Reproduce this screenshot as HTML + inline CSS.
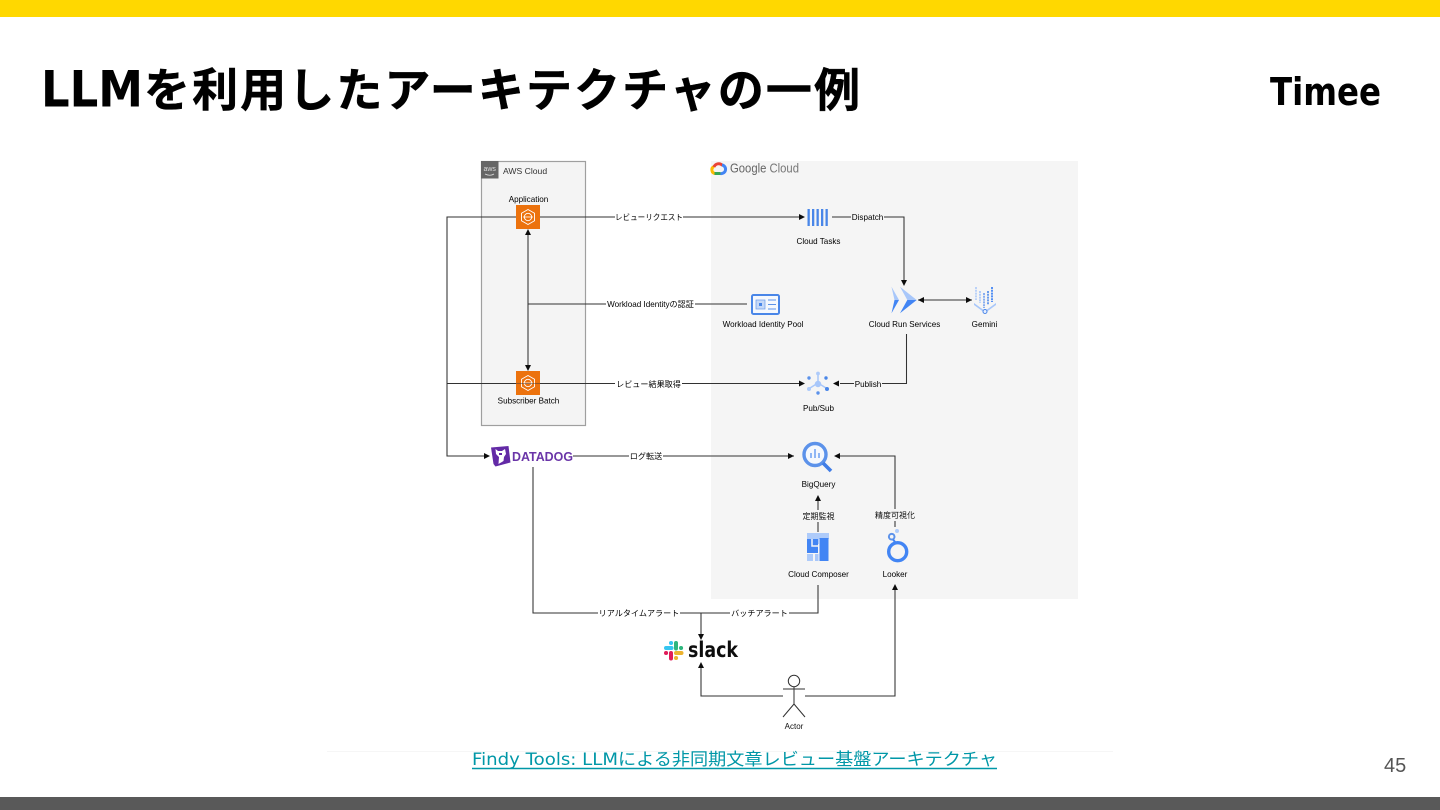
<!DOCTYPE html>
<html lang="ja">
<head>
<meta charset="utf-8">
<title>LLMを利用したアーキテクチャの一例</title>
<style>
html,body{margin:0;padding:0;background:#fff}
body{width:1440px;height:810px;overflow:hidden}
svg{display:block}
.l{font-family:"Liberation Sans","Noto Sans CJK JP",sans-serif;font-size:8.1px;fill:#000;text-anchor:middle}
.e{font-family:"Liberation Sans","Noto Sans CJK JP",sans-serif;font-size:8px;fill:#111;text-anchor:middle}
.ln{fill:none;stroke:#333;stroke-width:1.05}
</style>
</head>
<body>
<svg xmlns="http://www.w3.org/2000/svg" width="1440" height="810" viewBox="0 0 1440 810">
<defs><filter id="b" x="-5%" y="-5%" width="110%" height="110%"><feGaussianBlur stdDeviation="0.27"/></filter></defs>
<rect width="1440" height="810" fill="#fff"/>
<rect width="1440" height="17" fill="#ffd800"/>
<rect y="797" width="1440" height="13" fill="#595959"/>
<text x="41" y="106.500" font-family="'DejaVu Sans',sans-serif" font-weight="700" font-size="50" fill="#000" textLength="102" lengthAdjust="spacingAndGlyphs">LLM</text>
<text x="144" y="106.500" font-family="'Noto Sans CJK JP',sans-serif" font-weight="700" font-size="46" fill="#000" stroke="#000" stroke-width=".5" textLength="716" lengthAdjust="spacing">を利用したアーキテクチャの一例</text>
<text x="1270" y="105" font-family="'DejaVu Sans',sans-serif" font-weight="700" font-size="38.500" fill="#000" textLength="111" lengthAdjust="spacingAndGlyphs">Timee</text>

<g filter="url(#b)">
<rect x="711" y="161" width="367" height="438" fill="#f5f5f5"/>
<rect x="481.500" y="161.500" width="104" height="264" fill="#f4f4f4" stroke="#9f9f9f" stroke-width="1.200"/>
<rect x="481" y="161" width="17.500" height="17.500" fill="#666"/>
<text x="489.700" y="171" font-family="'Liberation Sans',sans-serif" font-size="7" fill="#ddd" text-anchor="middle">aws</text>
<path d="M485 174q5 2.500 9 0" stroke="#ddd" stroke-width=".8" fill="none"/>
<text x="503" y="174" font-family="'Liberation Sans',sans-serif" font-size="8.600" fill="#333">AWS Cloud</text>

<!-- Google Cloud logo -->
<path d="M715 173.500a3.700 3.700 0 0 1 -1-7" fill="none" stroke="#fbbc04" stroke-width="3"/>
<path d="M714.500 173.500h6" fill="none" stroke="#34a853" stroke-width="3"/>
<path d="M714 167a5 5 0 0 1 8.500-1.500" fill="none" stroke="#ea4335" stroke-width="3"/>
<path d="M722 165a4.300 4.300 0 0 1 -1.500 8.500" fill="none" stroke="#4285f4" stroke-width="3"/>
<text x="730" y="172.500" font-family="'Liberation Sans',sans-serif" font-size="12.500" fill="#666" textLength="69" lengthAdjust="spacingAndGlyphs">Google <tspan fill="#777">Cloud</tspan></text>

<!-- connectors -->
<path class="ln" d="M516 217H447V456H484M447 383.500H516M540 217H800M540 383.500H800"/>
<path class="ln" d="M528 232V366M528 304H747"/>
<path class="ln" d="M832 217H904V280M918 300H972M906.500 334V383.500H840"/>
<path class="ln" d="M573 456H794M895 527V456H840M818 532V500M818 585V613H533V467M701 613V634M701 668V696H783M805 696H895V590"/>

<!-- arrowheads -->
<g fill="#111">
<path d="M528 229l-3 6h6zM528 371l-3-6h6z"/>
<path d="M805 217l-6-3v6zM805 383.500l-6-3v6zM833 383.500l6-3v6z"/>
<path d="M904 286l-3-6h6z"/>
<path d="M918 300l6-3v6zM972 300l-6-3v6z"/>
<path d="M490 456l-6-3v6zM794 456l-6-3v6zM834 456l6-3v6z"/>
<path d="M818 495l-3 6h6z"/>
<path d="M701 640l-3-6h6zM701 662l-3 6h6zM895 584l-3 6h6z"/>
</g>

<!-- edge labels -->
<rect x="615" y="211" width="68" height="12" fill="#fff"/><text class="l" x="649" y="220" textLength="68" lengthAdjust="spacingAndGlyphs">レビューリクエスト</text>
<rect x="606" y="298" width="89" height="12" fill="#fff"/><text class="l" x="650.500" y="307">Workload Identityの認証</text>
<rect x="615" y="378" width="67" height="12" fill="#fff"/><text class="l" x="648.500" y="387">レビュー結果取得</text>
<rect x="851" y="211" width="33" height="12" fill="#f5f5f5"/><text class="l" x="867.500" y="220">Dispatch</text>
<rect x="854" y="378" width="28" height="12" fill="#f5f5f5"/><text class="l" x="868" y="387">Publish</text>
<rect x="629" y="450" width="34" height="12" fill="#fff"/><text class="l" x="646" y="459">ログ転送</text>
<rect x="803" y="510" width="31" height="12" fill="#f5f5f5"/><text class="e" x="818.500" y="519">定期監視</text>
<rect x="876" y="509" width="38" height="12" fill="#f5f5f5"/><text class="e" x="895" y="518">精度可視化</text>
<rect x="598" y="607" width="82" height="12" fill="#fff"/><text class="l" x="639" y="616">リアルタイムアラート</text>
<rect x="730" y="607" width="59" height="12" fill="#fff"/><text class="l" x="759.500" y="616">バッチアラート</text>

<!-- AWS icons -->
<rect x="516" y="205" width="24" height="24" fill="#ec7211"/>
<path d="M528 209.500l6.500 3.700v7.600l-6.500 3.700-6.500-3.700v-7.600z" fill="none" stroke="#fff" stroke-width=".9"/>
<circle cx="528" cy="217" r="3.700" fill="none" stroke="#fff" stroke-width=".9"/>
<path d="M523 217h10" stroke="#fff" stroke-width=".8"/>
<rect x="516" y="371" width="24" height="24" fill="#ec7211"/>
<path d="M528 375.500l6.500 3.700v7.600l-6.500 3.700-6.500-3.700v-7.600z" fill="none" stroke="#fff" stroke-width=".9"/>
<circle cx="528" cy="383" r="3.700" fill="none" stroke="#fff" stroke-width=".9"/>
<path d="M523 383h10" stroke="#fff" stroke-width=".8"/>
<path class="ln" d="M516 383.500H540" stroke-opacity=".45"/>

<text class="l" x="528.500" y="202">Application</text>
<text class="l" x="528.500" y="403.500">Subscriber Batch</text>

<!-- Cloud Tasks -->
<g fill="#4a86e8">
<rect x="807.500" y="209" width="2.300" height="17"/><rect x="812" y="209" width="2.300" height="17"/><rect x="816.500" y="209" width="2.300" height="17"/><rect x="821" y="209" width="2.300" height="17"/><rect x="825.500" y="209" width="2.300" height="17"/>
</g>
<text class="l" x="818.500" y="244">Cloud Tasks</text>

<!-- Workload Identity Pool -->
<rect x="752" y="295" width="27" height="19" rx="1.500" fill="#f5f8fd" stroke="#4a86e8" stroke-width="2"/>
<rect x="756" y="300" width="9" height="9" fill="#c6d9f8" stroke="#6a9aea" stroke-width=".7"/>
<rect x="759" y="303" width="3" height="3" fill="#4a86e8"/>
<path d="M768 300h8M768 304.500h8M768 309h8" stroke="#5b92ea" stroke-width="1"/>
<text class="l" x="763" y="327">Workload Identity Pool</text>

<!-- Cloud Run -->
<path d="M891.500 286.700L899 300H894.500z" fill="#a8c7fa"/>
<path d="M899 300L891.500 313.300 894.500 300z" fill="#4285f4"/>
<path d="M900 286.700L916.700 300H907.300z" fill="#a8c7fa"/>
<path d="M907.300 300H916.700L900 313.300z" fill="#4285f4"/>
<text class="l" x="904.500" y="327">Cloud Run Services</text>

<!-- Gemini -->
<path d="M974 303l11 8 11-8v2l-11 8-11-8z" fill="#a8c7fa"/>
<circle cx="985" cy="311.500" r="2" fill="#eaf1fe" stroke="#4a86e8" stroke-width="1"/>
<g stroke-dasharray="2 .8" stroke-width="1.800" fill="none">
<path d="M976 287V300" stroke="#b5cff9"/><path d="M980 291V303" stroke="#a8c7fa"/><path d="M984 293V308" stroke="#7ba6ef"/><path d="M988 291V305" stroke="#5b92ea"/><path d="M992 287V302" stroke="#4285f4"/>
</g>
<text class="l" x="984.500" y="327">Gemini</text>

<!-- Pub/Sub -->
<path d="M818 383L810 388M818 383L826 388M818 383V375" stroke="#a8c7fa" stroke-width="1.500"/>
<circle cx="818" cy="384" r="3.200" fill="#a8c7fa"/>
<circle cx="818" cy="373.500" r="1.900" fill="#aecbfa"/><circle cx="809" cy="378" r="1.700" fill="#5b92ea"/><circle cx="826" cy="378" r="1.700" fill="#4a86e8"/><circle cx="809" cy="389" r="2" fill="#aecbfa"/><circle cx="827" cy="389" r="2" fill="#4a86e8"/><circle cx="818" cy="393" r="1.700" fill="#5b92ea"/>
<text class="l" x="818.500" y="411">Pub/Sub</text>

<!-- Datadog -->
<path d="M491 447.500l17.500-1.500 2 16.500-15 4-2-2.500z" fill="#632ca6"/>
<path d="M495.500 449l2.500 2 4 0 3-2 1 5-2 3-.5 4-5 3 .5-7-3-3z" fill="#fff"/>
<path d="M499 453h3v2h-3z" fill="#632ca6"/>
<text x="512" y="461" font-family="'Liberation Sans',sans-serif" font-weight="700" font-size="13" fill="#6a35a8" textLength="61" lengthAdjust="spacingAndGlyphs">DATADOG</text>

<!-- BigQuery -->
<circle cx="815" cy="454.500" r="11" fill="#f5f8fd" stroke="#5b92ea" stroke-width="3.400"/>
<path d="M823 463l8 8" stroke="#3f7de6" stroke-width="3.600"/>
<path d="M811 453v5M815 449v9M819 453v5" stroke="#8fb6f5" stroke-width="2"/>
<text class="l" x="818.500" y="487">BigQuery</text>

<!-- Cloud Composer -->
<rect x="807" y="533" width="22" height="6" fill="#aecbfa"/>
<rect x="815" y="539" width="4" height="5" fill="#aecbfa"/>
<rect x="807" y="539" width="11" height="14" fill="#4285f4"/>
<path d="M812 539v7h6" fill="none" stroke="#f5f5f5" stroke-width="1.500"/>
<rect x="819.500" y="538" width="9" height="23" fill="#4285f4"/>
<rect x="807" y="554" width="6" height="7" fill="#aecbfa"/>
<rect x="815" y="554" width="3.500" height="7" fill="#a8c7fa"/>
<text class="l" x="818.500" y="577">Cloud Composer</text>

<!-- Looker -->
<circle cx="897.700" cy="551.700" r="9" fill="none" stroke="#4285f4" stroke-width="3.400"/>
<circle cx="891.700" cy="536.700" r="2.800" fill="none" stroke="#5b92ea" stroke-width="2"/>
<path d="M893 539.500l2.500 3" stroke="#4285f4" stroke-width="2"/>
<circle cx="897" cy="531" r="2" fill="#aecbfa"/>
<text class="l" x="895" y="577">Looker</text>

<!-- Slack -->
<g stroke-width="4" stroke-linecap="round" fill="none">
<path d="M666 648h5.500M671 643h.1" stroke="#36c5f0"/>
<path d="M676 643v5.500M681 648h.1" stroke="#2eb67d"/>
<path d="M676 653h5.500M676 658h.1" stroke="#ecb22e"/>
<path d="M671 653v5.500M666 653h.1" stroke="#e01e5a"/>
</g>
<text x="688" y="657" font-family="'DejaVu Sans',sans-serif" font-weight="700" font-size="21.500" fill="#111" textLength="50" lengthAdjust="spacingAndGlyphs">slack</text>

<!-- Actor -->
<g fill="none" stroke="#333" stroke-width="1">
<circle cx="794" cy="681" r="5.700"/>
<path d="M794 687V704M783 689H805M794 704L783 717M794 704L805 717"/>
</g>
<text class="e" x="794" y="729">Actor</text>
</g>

<path d="M327 751.500H1113" stroke="#f6f6f6" stroke-width="1"/>
<text x="472" y="765" font-family="'DejaVu Sans','Noto Sans CJK JP',sans-serif" font-size="17" fill="#0097a7" textLength="525" lengthAdjust="spacingAndGlyphs">Findy Tools: LLMによる非同期文章レビュー基盤アーキテクチャ</text>
<path d="M472 768.500H997" stroke="#0097a7" stroke-width="1.500"/>
<text x="1384" y="772" font-family="'Liberation Sans',sans-serif" font-size="20" fill="#555">45</text>
</svg>
</body>
</html>
